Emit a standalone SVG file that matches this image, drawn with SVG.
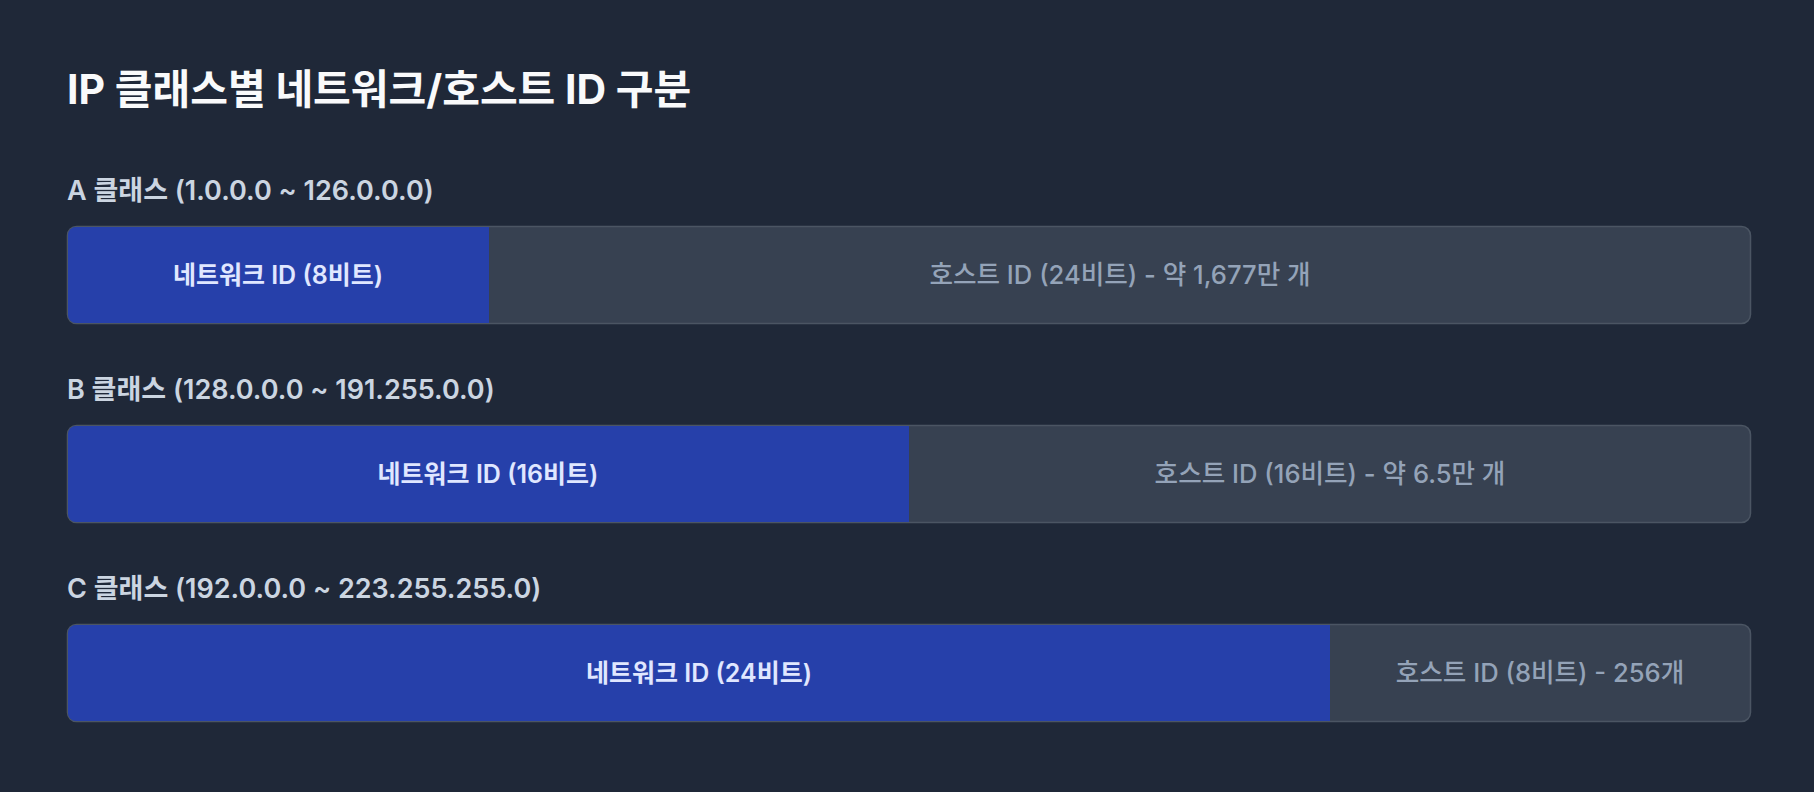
<svg xmlns="http://www.w3.org/2000/svg" width="1814" height="792" viewBox="0 0 1814 792">
<style>
text{font-family:Inter,"Noto Sans CJK KR",sans-serif}
.title{font-size:41px;font-weight:700;fill:#f9fafb}
.lbl{font-size:27px;font-weight:600;fill:#cbd5e1}
.bar{fill:#374151;stroke:#4b5563;stroke-width:1.5}
.net{fill:#2640aa}
.nt{font-size:25px;font-weight:600;fill:#e0e7ff;text-anchor:middle}
.ht{font-size:25.6px;font-weight:500;fill:#94a3b8;text-anchor:middle}
</style>
<defs>
<clipPath id="cA"><rect x="68" y="227" width="1682" height="96" rx="8"/></clipPath>
<clipPath id="cB"><rect x="68" y="426" width="1682" height="96" rx="8"/></clipPath>
<clipPath id="cC"><rect x="68" y="625" width="1682" height="96" rx="8"/></clipPath>
</defs>
<rect width="1814" height="792" fill="#1f2838"/>
<text class="title" x="67" y="104">IP 클래스별 네트워크/호스트 ID 구분</text>
<g id="classA">
<text class="lbl" x="67" y="200">A 클래스 (1.0.0.0 ~ 126.0.0.0)</text>
<rect class="bar" x="67.5" y="226.5" width="1683" height="97" rx="9"/>
<rect class="net" x="68" y="227" width="421" height="96" clip-path="url(#cA)"/>
<text class="nt" x="278" y="284">네트워크 ID (8비트)</text>
<text class="ht" x="1120" y="284">호스트 ID (24비트) - 약 1,677만 개</text>
</g>
<g id="classB">
<text class="lbl" x="67" y="399">B 클래스 (128.0.0.0 ~ 191.255.0.0)</text>
<rect class="bar" x="67.5" y="425.5" width="1683" height="97" rx="9"/>
<rect class="net" x="68" y="426" width="841" height="96" clip-path="url(#cB)"/>
<text class="nt" x="488" y="483">네트워크 ID (16비트)</text>
<text class="ht" x="1330" y="483">호스트 ID (16비트) - 약 6.5만 개</text>
</g>
<g id="classC">
<text class="lbl" x="67" y="598">C 클래스 (192.0.0.0 ~ 223.255.255.0)</text>
<rect class="bar" x="67.5" y="624.5" width="1683" height="97" rx="9"/>
<rect class="net" x="68" y="625" width="1262" height="96" clip-path="url(#cC)"/>
<text class="nt" x="699" y="682">네트워크 ID (24비트)</text>
<text class="ht" x="1540" y="682">호스트 ID (8비트) - 256개</text>
</g>
</svg>
